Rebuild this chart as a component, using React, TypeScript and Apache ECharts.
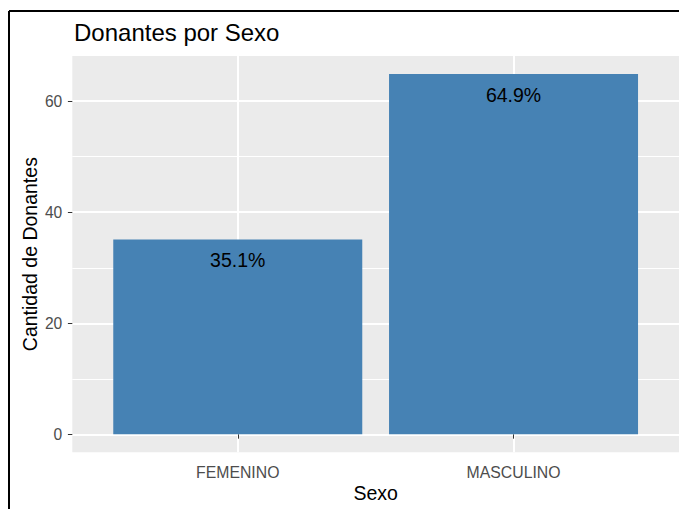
import React, { useEffect, useRef } from "react";
import * as echarts from "echarts";

const categories = ["FEMENINO", "MASCULINO"];
const counts = [35.1, 64.9];
const percentLabels = ["35.1%", "64.9%"];
const yTicks = [0, 20, 40, 60];
const yMinorTicks = [10, 30, 50];
const xPositions = [1, 2];

const FONT = "Liberation Sans";

export default function App() {
  const ref = useRef<HTMLDivElement>(null);
  useEffect(() => {
    if (!ref.current) return;
    const chart = echarts.init(ref.current, undefined, { renderer: "svg" });
    const option: any = {
      animation: false,
      backgroundColor: "#FFFFFF",
      textStyle: { fontFamily: FONT },
      title: {
        text: "Donantes por Sexo",
        left: 74,
        top: 20,
        padding: 0,
        textStyle: { fontFamily: FONT, fontSize: 24, fontWeight: "normal", color: "#000000" },
      },
      grid: {
        left: 72.3,
        right: -2,
        top: 56,
        bottom: 56.7,
        show: true,
        backgroundColor: "#EBEBEB",
        borderWidth: 0,
        containLabel: false,
      },
      xAxis: {
        type: "value",
        min: 0.4,
        max: 2.6,
        axisLine: { show: false },
        axisTick: {
          show: true,
          customValues: xPositions,
          length: 4.4,
          lineStyle: { color: "#333333", width: 1 },
        },
        axisLabel: {
          show: true,
          customValues: xPositions,
          formatter: (v: number) => categories[Math.round(v) - 1] ?? "",
          fontFamily: FONT,
          fontSize: 15.8,
          color: "#4D4D4D",
          margin: 12,
        },
        splitLine: { show: true, lineStyle: { color: "#FFFFFF", width: 2 } },
        name: "Sexo",
        nameLocation: "middle",
        nameGap: 31,
        nameMoveOverlap: false,
        nameTextStyle: { fontFamily: FONT, fontSize: 19.5, color: "#000000", verticalAlign: "top" },
      },
      yAxis: {
        type: "value",
        min: -3.245,
        max: 68.145,
        axisLine: { show: false },
        axisTick: {
          show: true,
          customValues: yTicks,
          length: 4.4,
          lineStyle: { color: "#333333", width: 1 },
        },
        axisLabel: {
          show: true,
          customValues: yTicks,
          fontFamily: FONT,
          fontSize: 15.6,
          color: "#4D4D4D",
          margin: 10,
        },
        splitLine: { show: true, lineStyle: { color: "#FFFFFF", width: 2 } },
        name: "Cantidad de Donantes",
        nameLocation: "middle",
        nameGap: 42,
        nameMoveOverlap: false,
        nameTextStyle: { fontFamily: FONT, fontSize: 19.5, color: "#000000", verticalAlign: "middle" },
      },
      series: [
        {
          type: "line",
          data: [],
          z: 1,
          silent: true,
          markLine: {
            silent: true,
            z: 1,
            symbol: "none",
            label: { show: false },
            lineStyle: { color: "#FFFFFF", width: 1, type: "solid" },
            data: yMinorTicks.map((v) => ({ yAxis: v })),
          },
        },
        {
          type: "bar",
          z: 3,
          barWidth: 249,
          itemStyle: { color: "#4682B4" },
          data: counts.map((c, i) => [xPositions[i], c]),
          label: {
            show: true,
            position: "insideTop",
            distance: 11,
            formatter: (p: any) => percentLabels[p.dataIndex],
            fontFamily: FONT,
            fontSize: 19.5,
            color: "#000000",
          },
        },
      ],
      graphic: [
        {
          type: "line",
          shape: { x1: 9, y1: 11, x2: 679, y2: 11 },
          style: { stroke: "#000000", lineWidth: 2 },
          z: 100,
        },
        {
          type: "line",
          shape: { x1: 9, y1: 11, x2: 9, y2: 509 },
          style: { stroke: "#000000", lineWidth: 2 },
          z: 100,
        },
      ],
    };
    chart.setOption(option);
    return () => chart.dispose();
  }, []);
  return (
    <div
      ref={ref}
      style={{ position: "fixed", left: 0, top: 0, width: 679, height: 509 }}
    />
  );
}
